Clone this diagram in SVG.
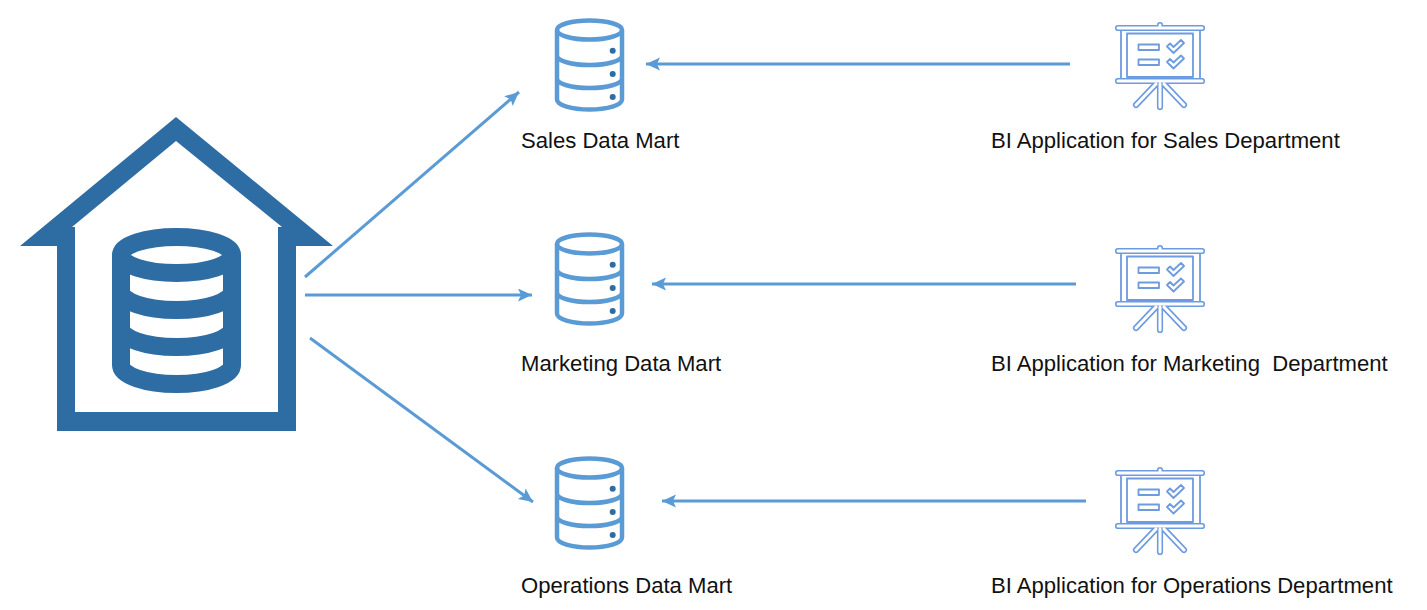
<svg xmlns="http://www.w3.org/2000/svg" xmlns:xlink="http://www.w3.org/1999/xlink" width="1427" height="610" viewBox="0 0 1427 610">
<style>
.lbl{font-family:"Liberation Sans",Arial,sans-serif;font-size:22.1px;fill:#111}
.conn{stroke:#5b9bd5;stroke-width:3;fill:none;marker-end:url(#ah)}
.dk{fill:none;stroke:#2e6ca4;stroke-width:18}
.mt{fill:none;stroke:#5b9bd5;stroke-width:4.500}
.ic{fill:none;stroke:#6d9be0;stroke-width:1.800;stroke-linejoin:round}
.o{fill:none;stroke:#6d9be0;stroke-width:6.200;stroke-linecap:round;stroke-linejoin:round}
.i{fill:none;stroke:#fff;stroke-width:3;stroke-linecap:round;stroke-linejoin:round}
</style>
<defs>
<marker id="ah" markerUnits="userSpaceOnUse" markerWidth="16" markerHeight="14" refX="14" refY="6.500" orient="auto"><path d="M0 0L14 6.500L0 13L3 6.500Z" fill="#5b9bd5"/></marker>
<g id="mart">
<ellipse class="mt" cx="589.500" cy="30" rx="32.500" ry="9.500"/>
<path class="mt" d="M557 30V99.500A32.500 10 0 0 0 622 99.500V30M557 55.500A32.500 9.500 0 0 0 622 55.500M557 78.500A32.500 9.500 0 0 0 622 78.500"/>
<circle cx="612.700" cy="50.700" r="3" fill="#2e6ca4"/><circle cx="612.700" cy="74" r="3" fill="#2e6ca4"/><circle cx="612.700" cy="97" r="3" fill="#2e6ca4"/>
</g>
<path id="frameP" d="M1118 28H1202M1118 81H1202M1160 28V25M1160 84V107M1156 84L1136 105M1164 84L1184 105"/>
<g id="board">
<use href="#frameP" class="o"/><use href="#frameP" class="i"/>
<path class="ic" d="M1121 31V78M1200 31V78"/>
<rect class="ic" x="1127" y="33.500" width="66" height="43.500"/>
<rect class="ic" x="1138.500" y="44.500" width="20.500" height="5.500"/>
<rect class="ic" x="1138.500" y="59.500" width="20.500" height="5.500"/>
<path class="ic" d="M1167 46.500L1170 43.500L1173.500 47L1181 40L1184 43L1173.500 53Z"/>
<path class="ic" d="M1167 62L1170 59L1173.500 62.500L1181 55.500L1184 58.500L1173.500 68.500Z"/>
</g>
</defs>
<rect width="1427" height="610" fill="#fff"/>
<g id="connectors">
<path class="conn" d="M305 277L519 92"/>
<path class="conn" d="M305 295H532"/>
<path class="conn" d="M310 338L533 502"/>
<path class="conn" d="M1070 64H646"/>
<path class="conn" d="M1076 284H652"/>
<path class="conn" d="M1086 501H662"/>
</g>
<g id="warehouse">
<path fill="#2e6ca4" fill-rule="evenodd" d="M176 117L333 246H296V431H57V246H20ZM176 141L72 227H75V412H278V227H282Z"/>
<ellipse class="dk" cx="176.500" cy="255" rx="55.500" ry="18"/>
<path class="dk" d="M121 255V365A55.500 19 0 0 0 232 365V255M121 291A55.500 19 0 0 0 232 291M121 328A55.500 19 0 0 0 232 328"/>
</g>
<g id="mart-sales"><use href="#mart"/><text class="lbl" x="521" y="148">Sales Data Mart</text></g>
<g id="mart-marketing"><use href="#mart" y="214"/><text class="lbl" x="521" y="371">Marketing Data Mart</text></g>
<g id="mart-operations"><use href="#mart" y="438"/><text class="lbl" x="521" y="593">Operations Data Mart</text></g>
<g id="bi-sales"><use href="#board"/><text class="lbl" x="991" y="148">BI Application for Sales Department</text></g>
<g id="bi-marketing"><use href="#board" y="223"/><text class="lbl" x="991" y="371" xml:space="preserve">BI Application for Marketing  Department</text></g>
<g id="bi-operations"><use href="#board" y="445"/><text class="lbl" x="991" y="593">BI Application for Operations Department</text></g>
</svg>
